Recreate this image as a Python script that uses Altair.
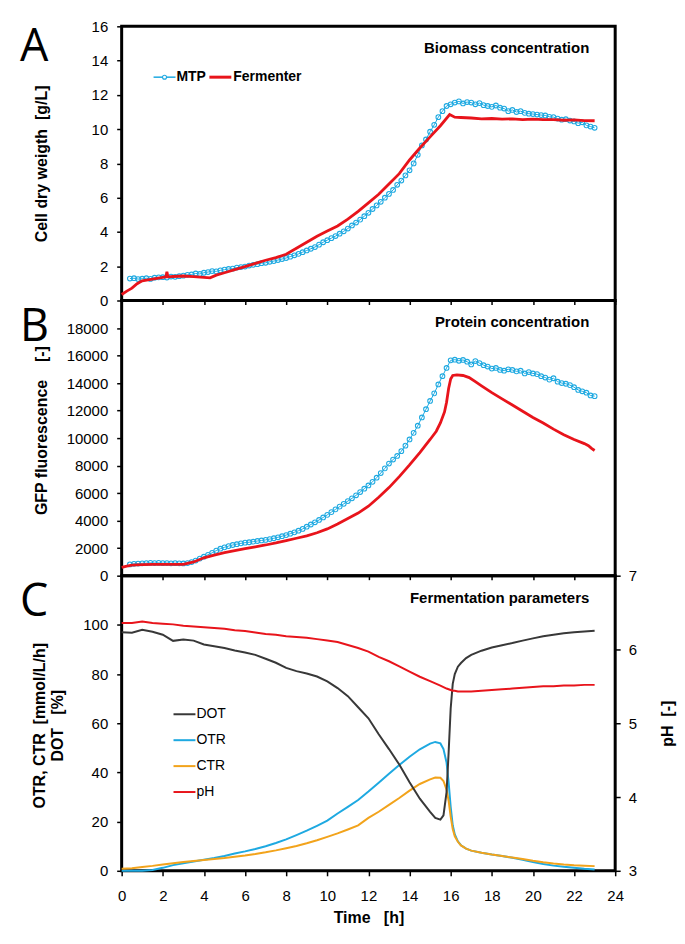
import altair as alt
import pandas as pd

# ---------------- data ----------------
# Panel A: biomass (cell dry weight, g/L)
mtp_a = [1.28, 1.30, 1.25, 1.27, 1.30, 1.26, 1.33, 1.35, 1.36, 1.34,
         1.40, 1.38, 1.42, 1.45, 1.50, 1.52, 1.58, 1.55, 1.62, 1.66,
         1.72, 1.70, 1.76, 1.80, 1.84, 1.86, 1.92, 1.95, 1.98, 2.04,
         2.08, 2.12, 2.18, 2.20, 2.26, 2.30, 2.36, 2.42, 2.48, 2.56,
         2.64, 2.72, 2.82, 2.92, 3.02, 3.12, 3.26, 3.40, 3.52, 3.64,
         3.76, 3.90, 4.04, 4.20, 4.38, 4.55, 4.72, 4.92, 5.12, 5.34,
         5.55, 5.76, 6.00, 6.22, 6.45, 6.75, 7.00, 7.30, 7.60, 8.00,
         8.50, 9.05, 9.40, 9.85, 10.25, 10.70, 11.05, 11.35, 11.45, 11.55,
         11.62, 11.50, 11.58, 11.55, 11.45, 11.52, 11.40, 11.35, 11.30, 11.38,
         11.25, 11.20, 11.05, 11.12, 11.00, 11.05, 10.95, 10.90, 10.88, 10.85,
         10.82, 10.80, 10.72, 10.70, 10.62, 10.55, 10.58, 10.50, 10.45, 10.35,
         10.40, 10.22, 10.15, 10.08]
mtp_a_time = [round(0.4 + 0.2 * i, 1) for i in range(len(mtp_a))]

ferm_a_time = [0.0, 0.25, 0.5, 0.75, 1.0, 1.5, 2.0, 2.15, 2.2, 2.25, 2.5, 3.0, 3.5, 4.0,
               4.3, 4.6, 5.0, 5.5, 6.0, 6.5, 7.0, 7.5, 8.0, 8.5, 9.0, 9.5, 10.0, 10.5,
               11.0, 11.5, 12.0, 12.5, 13.0, 13.5, 14.0, 14.5, 15.0, 15.5, 15.95, 16.2,
               16.5, 17.0, 17.5, 18.0, 18.5, 19.0, 19.5, 20.0, 20.5, 21.0, 21.5, 22.0,
               22.5, 23.0]
ferm_a = [0.35, 0.55, 0.72, 0.98, 1.15, 1.25, 1.35, 1.38, 1.68, 1.38, 1.40, 1.43, 1.39, 1.35,
          1.32, 1.48, 1.62, 1.80, 1.98, 2.17, 2.35, 2.50, 2.70, 3.05, 3.40, 3.75, 4.05, 4.35,
          4.75, 5.20, 5.70, 6.20, 6.80, 7.40, 8.20, 8.90, 9.55, 10.20, 10.85, 10.70,
          10.68, 10.65, 10.60, 10.62, 10.58, 10.60, 10.56, 10.58, 10.55, 10.56, 10.52, 10.54,
          10.50, 10.49]

# Panel B: GFP fluorescence (-)
mtp_b = [820, 860, 880, 900, 910, 930, 920, 930, 910, 920,
         900, 910, 900, 890, 920, 990, 1100, 1240, 1380, 1520,
         1660, 1820, 1960, 2060, 2150, 2230, 2290, 2350, 2400, 2430,
         2470, 2520, 2560, 2600, 2660, 2720, 2790, 2870, 2950, 3050,
         3150, 3270, 3400, 3560, 3720, 3880, 4050, 4230, 4420, 4620,
         4820, 5020, 5220, 5420, 5620, 5840, 6080, 6320, 6560, 6820,
         7120, 7460, 7800, 8150, 8440, 8700, 9050, 9450, 9900, 10380,
         10900, 11500, 12100, 12700, 13250, 13900, 14500, 15100, 15650, 15700,
         15620, 15680, 15550, 15350, 15600, 15450, 15300, 15200, 15050, 15100,
         14950, 14900, 15000, 14950, 14850, 14900, 14700, 14800, 14700, 14650,
         14500, 14400, 14250, 14350, 14100, 14000, 13950, 13850, 13700, 13500,
         13400, 13300, 13100, 13050]
mtp_b_time = [round(0.4 + 0.2 * i, 1) for i in range(len(mtp_b))]

ferm_b_time = [0.0, 0.25, 0.5, 1.0, 1.5, 2.0, 2.5, 3.0, 3.5, 4.0, 4.5, 5.0, 5.5, 6.0, 6.5,
               7.0, 7.5, 8.0, 8.5, 9.0, 9.5, 10.0, 10.5, 11.0, 11.5, 12.0, 12.5, 13.0,
               13.5, 14.0, 14.5, 15.0, 15.3, 15.5, 15.7, 15.8, 15.9, 16.0, 16.1, 16.3,
               16.6, 16.9, 17.2, 17.5, 18.0, 18.5, 19.0, 19.5, 20.0, 20.5, 21.0, 21.5,
               22.0, 22.5, 22.7, 22.85, 23.0]
ferm_b = [600, 700, 770, 810, 820, 820, 815, 820, 1000, 1300, 1500, 1680, 1820, 1960, 2100,
          2230, 2380, 2550, 2720, 2900, 3120, 3400, 3750, 4150, 4550, 5050, 5700, 6400,
          7200, 8050, 8950, 9900, 10500, 11100, 11900, 12600, 13600, 14300, 14550, 14600,
          14550, 14400, 14100, 13800, 13300, 12850, 12400, 11950, 11500, 11100, 10650, 10250,
          9900, 9600, 9450, 9250, 9100]

# Panel C: fermentation parameters
c_time = [0, 0.5, 1, 1.5, 2, 2.5, 3, 3.5, 4, 4.5, 5, 5.5, 6, 6.5, 7, 7.5, 8, 8.5, 9, 9.5,
          10, 10.5, 11, 11.5, 12, 12.5, 13, 13.5, 14, 14.5, 15, 15.25, 15.5, 15.65, 15.8,
          15.9, 16.0, 16.1, 16.2, 16.35, 16.5, 16.75, 17, 17.5, 18, 18.5, 19, 19.5, 20,
          20.5, 21, 21.5, 22, 22.5, 23]
dot = [97.0, 96.8, 98.0, 97.2, 96.0, 93.5, 94.0, 93.6, 92.0, 91.3, 90.6, 89.6, 88.8, 87.8,
       86.2, 84.6, 82.5, 81.2, 80.2, 79.0, 77.0, 74.3, 71.0, 66.5, 62.0, 55.5, 49.5, 43.2,
       36.0, 29.3, 24.0, 21.5, 20.8, 22.5, 32.0, 48.0, 66.0, 76.0, 80.0, 83.0, 84.5, 86.5,
       87.8, 89.5, 90.8, 91.7, 92.6, 93.6, 94.5, 95.4, 96.0, 96.6, 97.0, 97.3, 97.6]
otr = [0.0, 0.0, 0.0, 0.3, 1.2, 2.3, 3.1, 3.8, 4.5, 5.2, 6.0, 7.0, 7.9, 8.9, 10.0, 11.3,
       12.8, 14.5, 16.3, 18.3, 20.4, 23.3, 26.0, 28.8, 32.2, 35.8, 39.5, 43.0, 46.4, 49.4,
       51.7, 52.4, 51.8, 49.5, 44.0, 36.0, 26.0, 18.5, 14.8, 12.0, 10.4, 9.0, 8.2, 7.3,
       6.6, 6.0, 5.3, 4.5, 3.6, 2.8, 2.1, 1.6, 1.2, 0.8, 0.5]
ctr = [0.8, 1.0, 1.5, 2.0, 2.6, 3.1, 3.6, 4.0, 4.4, 4.8, 5.2, 5.7, 6.2, 6.8, 7.5, 8.3,
       9.2, 10.1, 11.2, 12.4, 13.8, 15.2, 16.8, 18.5, 21.5, 24.0, 26.8, 29.6, 32.6, 35.3,
       37.2, 37.9, 37.8, 36.5, 33.0, 28.5, 22.0, 17.0, 14.0, 11.8, 10.3, 9.0, 8.2, 7.3,
       6.6, 6.0, 5.4, 4.8, 4.1, 3.5, 3.0, 2.6, 2.3, 2.1, 1.9]
ph = [6.36, 6.36, 6.38, 6.36, 6.35, 6.34, 6.32, 6.31, 6.30, 6.29, 6.28, 6.26, 6.25, 6.23,
      6.21, 6.20, 6.18, 6.17, 6.16, 6.14, 6.12, 6.10, 6.06, 6.02, 5.97, 5.90, 5.84, 5.77,
      5.70, 5.63, 5.57, 5.54, 5.51, 5.49, 5.47, 5.46, 5.45, 5.44, 5.44, 5.43, 5.43, 5.43,
      5.43, 5.44, 5.45, 5.46, 5.47, 5.48, 5.49, 5.50, 5.50, 5.51, 5.51, 5.52, 5.52]

x_ticks = [0, 2, 4, 6, 8, 10, 12, 14, 16, 18, 20, 22, 24]
a_ticks = [0, 2, 4, 6, 8, 10, 12, 14, 16]
b_ticks = [0, 2000, 4000, 6000, 8000, 10000, 12000, 14000, 16000, 18000]
c_ticks = [0, 20, 40, 60, 80, 100]
ph_ticks = [3, 4, 5, 6, 7]

panel_letters = ["A", "B", "C"]
panel_titles = ["Biomass concentration", "Protein concentration", "Fermentation parameters"]
legend_a = ["MTP", "Fermenter"]
legend_c = ["DOT", "OTR", "CTR", "pH"]

# ---------------- style ----------------
FONT = "Liberation Sans"
LETTER_FONT = "Open Sans"
CYAN = "#1ea9e1"
RED = "#e8141b"
ORANGE = "#f2a31b"
DARK = "#383838"
W = 495
HA, HB, HC = 275, 276, 296

xscale = alt.Scale(domain=[0, 24], nice=False, zero=False)


def x_hidden():
    return alt.X("t:Q", scale=xscale,
                 axis=alt.Axis(values=x_ticks, labels=False, title=None, tickSize=4,
                               domain=False, grid=False))


def text_layer(s, x, y, **kw):
    return alt.Chart(pd.DataFrame({"s": [s]})).mark_text(**kw).encode(
        x=alt.value(x), y=alt.value(y), text="s:N")


def letter(s, y):
    return text_layer(s, -102, y, font=LETTER_FONT, fontSize=45, align="left",
                      baseline="alphabetic", color="black")


def title_text(s):
    return text_layer(s, 469, 22, font=FONT, fontSize=15, fontWeight="bold",
                      align="right", baseline="middle", color="black")


def hrule(x1, x2, y, color, width):
    return alt.Chart(pd.DataFrame({"k": [0]})).mark_rule(color=color, strokeWidth=width).encode(
        x=alt.value(x1), x2=alt.value(x2), y=alt.value(y))


# ---------------- Panel A ----------------
dfa_m = pd.DataFrame({"t": mtp_a_time, "cdw": mtp_a})
dfa_f = pd.DataFrame({"t": ferm_a_time, "cdw": ferm_a})
ya = alt.Y("cdw:Q", scale=alt.Scale(domain=[0, 16], nice=False),
           axis=alt.Axis(values=a_ticks, title="Cell dry weigth\u00a0\u00a0[g/L]",
                         titleX=-80, titleY=HA / 2, titleAngle=270, titleAlign="center",
                         titleBaseline="middle", labelPadding=9, labelFlush=False,
                         domain=False, grid=False))
xa = x_hidden()
panel_a = alt.layer(
    alt.Chart(dfa_m).mark_line(color=CYAN, strokeWidth=1).encode(x=xa, y=ya),
    alt.Chart(dfa_m).mark_point(shape="circle", filled=False, color=CYAN, size=22,
                                strokeWidth=1.1, opacity=1).encode(x=xa, y=ya),
    alt.Chart(dfa_f).mark_line(color=RED, strokeWidth=2.8).encode(x=xa, y=ya),
    title_text(panel_titles[0]),
    hrule(32, 54, 51, CYAN, 1.5),
    alt.Chart(pd.DataFrame({"k": [0]})).mark_point(shape="circle", filled=True, fill="white",
                                                   stroke=CYAN, size=16, strokeWidth=1.1,
                                                   opacity=1).encode(x=alt.value(43), y=alt.value(51)),
    text_layer(legend_a[0], 55, 51, font=FONT, fontSize=14, fontWeight="bold",
               align="left", baseline="middle", color="black"),
    hrule(88, 110, 51, RED, 3),
    text_layer(legend_a[1], 112, 51, font=FONT, fontSize=14, fontWeight="bold",
               align="left", baseline="middle", color="black"),
    letter(panel_letters[0], 35),
).properties(width=W, height=HA)

# ---------------- Panel B ----------------
dfb_m = pd.DataFrame({"t": mtp_b_time, "gfp": mtp_b})
dfb_f = pd.DataFrame({"t": ferm_b_time, "gfp": ferm_b})
yb = alt.Y("gfp:Q", scale=alt.Scale(domain=[0, 20000], nice=False),
           axis=alt.Axis(values=b_ticks, format="d",
                         title="GFP fluorescence\u00a0\u00a0\u00a0\u00a0[-]",
                         titleX=-80, titleY=HB / 2 - 8, titleAngle=270, titleAlign="center",
                         titleBaseline="middle", labelPadding=9, labelFlush=False,
                         domain=False, grid=False))
xb = x_hidden()
panel_b = alt.layer(
    alt.Chart(dfb_m).mark_line(color=CYAN, strokeWidth=1).encode(x=xb, y=yb),
    alt.Chart(dfb_m).mark_point(shape="circle", filled=False, color=CYAN, size=22,
                                strokeWidth=1.1, opacity=1).encode(x=xb, y=yb),
    alt.Chart(dfb_f).mark_line(color=RED, strokeWidth=2.8).encode(x=xb, y=yb),
    title_text(panel_titles[1]),
    letter(panel_letters[1], 41),
).properties(width=W, height=HB)

# ---------------- Panel C ----------------
dfc = pd.DataFrame({"t": c_time, "dot": dot, "otr": otr, "ctr": ctr, "ph": ph})
xc = alt.X("t:Q", scale=xscale,
           axis=alt.Axis(values=x_ticks, title="Time\u00a0\u00a0\u00a0[h]", titleX=W / 2, titleY=47,
                         titleBaseline="middle", titleAlign="center", labelPadding=13,
                         labelFlush=False, labelOverlap=False, tickSize=5,
                         domain=False, grid=False))
yc_scale = alt.Scale(domain=[0, 120], nice=False)
yc_axis = alt.Axis(values=c_ticks,
                   title=["OTR, CTR\u00a0\u00a0[mmol/L/h]", "DOT\u00a0\u00a0\u00a0[%]"],
                   titleX=-82, titleY=150, titleAngle=270, titleAlign="center",
                   titleBaseline="middle", titleLineHeight=18, labelPadding=9,
                   labelFlush=False, domain=False, grid=False)


def cline(field, color, axis):
    return alt.Chart(dfc).mark_line(color=color, strokeWidth=2).encode(
        x=xc, y=alt.Y(f"{field}:Q", scale=yc_scale, axis=axis))


legend_items = []
for i, (name, col) in enumerate(zip(legend_c, [DARK, CYAN, ORANGE, RED])):
    yy = 139 + 26 * i
    legend_items.append(hrule(52, 74, yy, col, 2))
    legend_items.append(text_layer(name, 75, yy, font=FONT, fontSize=14, align="left",
                                   baseline="middle", color="black"))

left_c = alt.layer(
    cline("otr", CYAN, yc_axis),
    cline("ctr", ORANGE, yc_axis),
    cline("dot", DARK, yc_axis),
    title_text(panel_titles[2]),
    letter(panel_letters[2], 40),
    *legend_items,
)
right_c = alt.Chart(dfc).mark_line(color=RED, strokeWidth=2).encode(
    x=xc,
    y=alt.Y("ph:Q", scale=alt.Scale(domain=[3, 7], nice=False, zero=False),
            axis=alt.Axis(values=ph_ticks, orient="right", title="pH\u00a0\u00a0[-]",
                          titleX=52, titleY=148, titleAngle=270, titleAlign="center",
                          titleBaseline="middle", labelPadding=8, labelFlush=False,
                          domain=False, grid=False)))
panel_c = alt.layer(left_c, right_c).resolve_scale(y="independent").properties(width=W, height=HC)

chart = alt.vconcat(panel_a, panel_b, panel_c, spacing=0, bounds="flush").resolve_scale(
    y="independent"
).properties(
    padding={"left": 10, "top": 8, "right": 0, "bottom": 0}
).configure_view(
    stroke="black", strokeWidth=3
).configure_axis(
    labelFont=FONT, labelFontSize=15, labelColor="black",
    titleFont=FONT, titleFontSize=16, titleFontWeight="bold", titleColor="black",
    tickColor="black", tickWidth=1.5, tickSize=5
)

chart.save("out.html", embed_options={"renderer": "svg", "actions": False})
